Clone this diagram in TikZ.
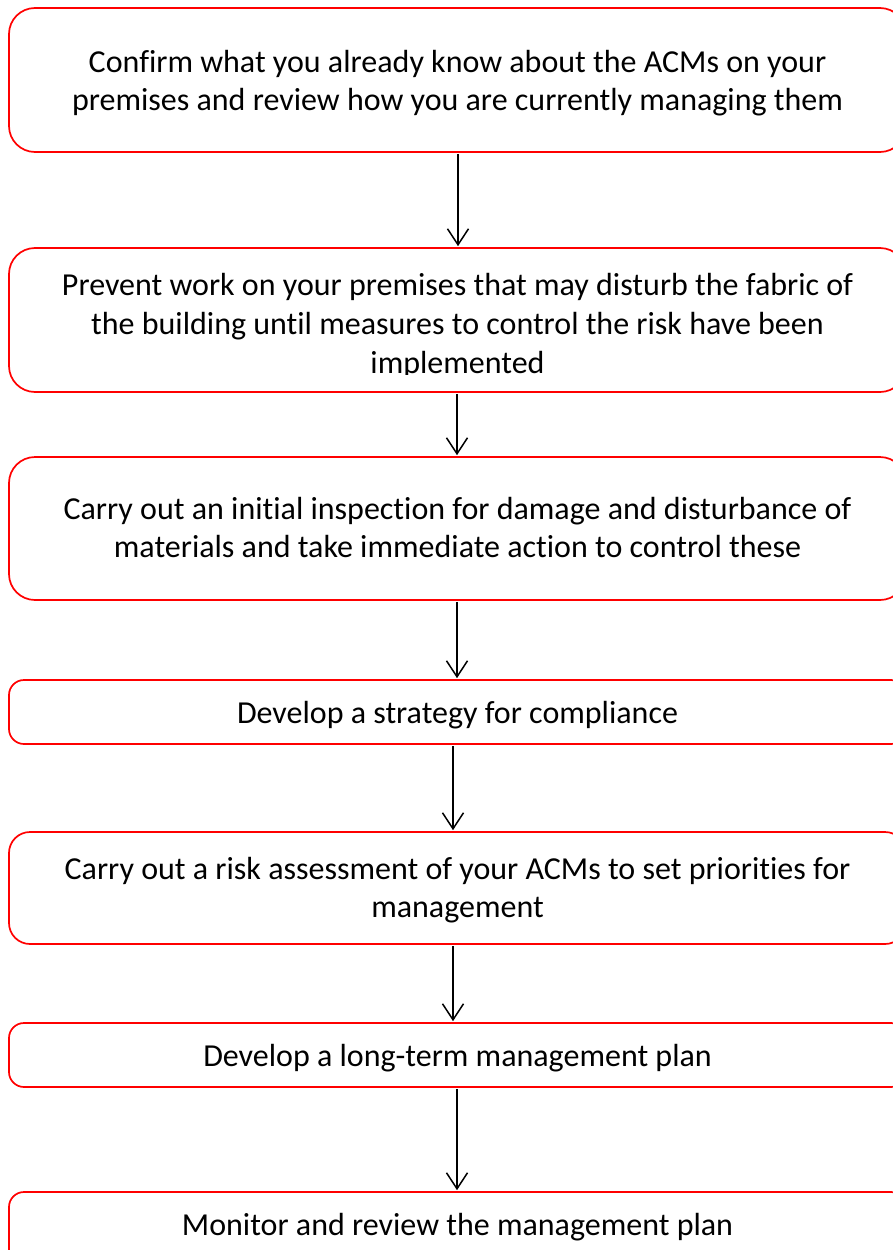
\documentclass[tikz,border=0pt]{standalone}
\usepackage{fontspec}
\setmainfont[Ligatures={NoCommon}]{Carlito}
\usetikzlibrary{arrows.meta}

\tikzset{
  stepbox/.style={draw=red, line width=1.7pt, fill=white, inner sep=0pt,
    minimum width=897pt},
  steptext/.style={anchor=base, inner sep=0pt, text=black,
    font=\fontsize{32}{38}\selectfont},
  flow/.style={draw=black, line width=1.5pt,
    -{Straight Barb[length=16pt,width=21pt,line width=1.5pt]}},
}

\begin{document}
\begin{tikzpicture}[x=1pt, y=-1pt]
  \useasboundingbox (0,0) rectangle (893,1250);
  \clip (0,0) rectangle (893,1250);

  % process boxes
  \node[stepbox, rounded corners=26pt, minimum height=144pt] (b1) at (457.5,80) {};
  \node[stepbox, rounded corners=26pt, minimum height=144pt] (b2) at (457.5,320) {};
  \node[stepbox, rounded corners=26pt, minimum height=143pt] (b3) at (457.5,528.5) {};
  \node[stepbox, rounded corners=15pt, minimum height=64pt]  (b4) at (457.5,712) {};
  \node[stepbox, rounded corners=21pt, minimum height=112pt] (b5) at (457.5,888) {};
  \node[stepbox, rounded corners=15pt, minimum height=64pt]  (b6) at (457.5,1055) {};
  \node[stepbox, rounded corners=15pt, minimum height=108pt] (b7) at (457.5,1246) {};

  % box texts
  \node[steptext] (t1a) at (457.5,72) {Confirm what you already know about the ACMs on your};
  \node[steptext] (t1b) at (457.5,110) {premises and review how you are currently managing them};

  \begin{scope}
    \clip (0,248) rectangle (893,374);
    \node[steptext] (t2a) at (457.5,295) {Prevent work on your premises that may disturb the fabric of};
    \node[steptext] (t2b) at (457.5,334) {the building until measures to control the risk have been};
    \node[steptext] (t2c) at (457.5,373) {implemented};
  \end{scope}

  \node[steptext] (t3a) at (457.5,519) {Carry out an initial inspection for damage and disturbance of};
  \node[steptext] (t3b) at (457.5,557) {materials and take immediate action to control these};

  \node[steptext] (t4) at (457.5,723) {Develop a strategy for compliance};

  \node[steptext] (t5a) at (457.5,879) {Carry out a risk assessment of your ACMs to set priorities for};
  \node[steptext] (t5b) at (457.5,917) {management};

  \node[steptext] (t6) at (457.5,1066) {Develop a long-term management plan};

  \node[steptext] (t7) at (457.5,1235) {Monitor and review the management plan};

  % connectors
  \draw[flow] ([xshift=0.5pt,yshift=-1pt]b1.south) -- ([xshift=0.5pt,yshift=1pt]b2.north);
  \draw[flow] ([xshift=-0.5pt,yshift=-1pt]b2.south) -- ([xshift=-0.5pt,yshift=1pt]b3.north);
  \draw[flow] ([xshift=-0.5pt,yshift=-1pt]b3.south) -- ([xshift=-0.5pt,yshift=1pt]b4.north);
  \draw[flow] ([xshift=-4.5pt,yshift=-1pt]b4.south) -- ([xshift=-4.5pt,yshift=1pt]b5.north);
  \draw[flow] ([xshift=-4.5pt,yshift=-1pt]b5.south) -- ([xshift=-4.5pt,yshift=1pt]b6.north);
  \draw[flow] ([xshift=-0.5pt,yshift=-1pt]b6.south) -- ([xshift=-0.5pt,yshift=1pt]b7.north);
\end{tikzpicture}
\end{document}
